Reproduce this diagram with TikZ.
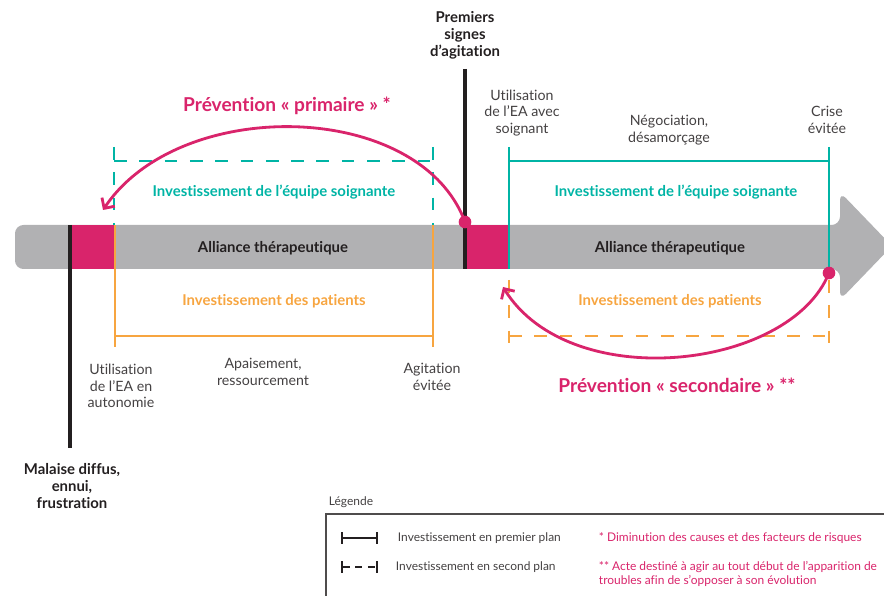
\documentclass[tikz,border=0pt]{standalone}
\usepackage{fontspec}
\setmainfont[Ligatures=NoCommon]{Lato}
\usetikzlibrary{arrows.meta}
\definecolor{rose}{HTML}{D9246B}
\definecolor{turq}{HTML}{00B4A5}
\definecolor{orng}{HTML}{F7A540}
\definecolor{gris}{HTML}{B1B1B3}
\definecolor{noir}{HTML}{231F20}
\tikzset{
    jalon/.style={draw=noir, line width=2.2pt},
    equipe/.style={draw=turq, line width=1.8pt},
    patient/.style={draw=orng, line width=1.8pt},
    pointille/.style={dash pattern=on 9pt off 9pt},
    titre/.style={font=\bfseries\fontsize{10.6}{12.2}\selectfont, text=noir, align=center},
    etape/.style={font=\fontsize{10.1}{11.8}\selectfont, text=noir!85, align=center},
    bande/.style={font=\bfseries\fontsize{10.6}{12}\selectfont},
    prev/.style={font=\bfseries\fontsize{13.6}{16}\selectfont, text=rose},
    boucle/.style={draw=rose, line width=2pt, -{Straight Barb[length=5.5pt,width=11pt]}},
    pastille/.style={fill=rose, circle, inner sep=0pt, minimum size=9pt},
    petit/.style={font=\fontsize{8.5}{10.6}\selectfont, anchor=west}
}
\begin{document}
\begin{tikzpicture}[x=0.025cm, y=-0.025cm]
    \useasboundingbox (0,0) rectangle (884,596);
    % fleche du temps
    \fill[gris, rounded corners=6pt] (15,225) -- (840,225) -- (840,192) -- (892,246)
        -- (840,300) -- (840,269) -- (15,269) -- cycle;
    \fill[rose] (70,225) rectangle (115,269);
    \fill[rose] (465,225) rectangle (509,269);
    \node[bande, text=noir] (alliance1) at (273,248) {Alliance thérapeutique};
    \node[bande, text=noir] (alliance2) at (670,248) {Alliance thérapeutique};

    % premiere phase
    \draw[equipe, pointille] (114,147) -- (114,225);
    \draw[equipe, pointille] (114,161) -- (433,161);
    \draw[equipe, pointille] (433,147) -- (433,225);
    \draw[patient] (115,225) -- (115,347);
    \draw[patient] (115,336) -- (433,336);
    \draw[patient] (433,225) -- (433,347);
    \node[bande, text=turq] (equipe1) at (274,192) {Investissement de l’équipe soignante};
    \node[bande, text=orng] (patient1) at (274,301) {Investissement des patients};

    % seconde phase
    \draw[equipe] (509,147) -- (509,269);
    \draw[equipe] (509,161) -- (829,161);
    \draw[equipe] (829,147) -- (829,269);
    \draw[patient, pointille] (509,280) -- (509,347);
    \draw[patient, pointille] (509,336) -- (829,336);
    \draw[patient, pointille] (829,280) -- (829,347);
    \node[bande, text=turq] (equipe2) at (676,192) {Investissement de l’équipe soignante};
    \node[bande, text=orng] (patient2) at (670,301) {Investissement des patients};

    % jalons
    \draw[jalon] (70,225) -- (70,448);
    \draw[jalon] (465,69) -- (465,269);
    \node[titre] (malaise) at (72,486) {Malaise diffus,\\ennui,\\frustration};
    \node[titre] (signes) at (465,35) {Premiers\\signes\\d’agitation};

    % etapes
    \node[etape] (autonomie) at (121,386) {Utilisation\\de l’EA en\\autonomie};
    \node[etape] (apaisement) at (263,372) {Apaisement,\\ressourcement};
    \node[etape] (agitation) at (432,377) {Agitation\\évitée};
    \node[etape] (soignant) at (522,113) {Utilisation\\de l’EA avec\\soignant};
    \node[etape] (negociation) at (669,130) {Négociation,\\désamorçage};
    \node[etape] (crise) at (827,120) {Crise\\évitée};

    % preventions
    \node[pastille] (dot1) at (465,222) {};
    \node[pastille] (dot2) at (829,273) {};
    \coordinate (fin1) at (103,210);
    \coordinate (fin2) at (503,287);
    \draw[boucle] (dot1.center) .. controls (420,100) and (180,95) .. (fin1);
    \draw[boucle] (dot2.center) .. controls (790,370) and (570,395) .. (fin2);
    \node[prev] (primaire) at (287,106) {Prévention « primaire » *};
    \node[prev] (secondaire) at (677,385) {Prévention « secondaire » **};

    % legende
    \node[petit, text=noir!85] (legende) at (324,502) {Légende};
    \draw[noir!80, line width=0.8pt] (326,514) rectangle (900,620);
    \draw[noir, line width=1.5pt, {Bar[width=8pt]}-{Bar[width=8pt]}] (341,538) -- (378,538);
    \draw[noir, line width=1.5pt, dash pattern=on 5pt off 4pt, {Bar[width=8pt]}-{Bar[width=8pt]}] (341,567) -- (378,567);
    \node[petit, text=noir!85] (premier) at (393,538) {Investissement en premier plan};
    \node[petit, text=noir!85] (second) at (391,567) {Investissement en second plan};
    \node[petit, text=rose] (note1) at (594,538) {* Diminution des causes et des facteurs de risques};
    \node[petit, text=rose, align=left] (note2) at (594,574) {** Acte destiné à agir au tout début de l’apparition de\\troubles afin de s’opposer à son évolution};
\end{tikzpicture}
\end{document}
